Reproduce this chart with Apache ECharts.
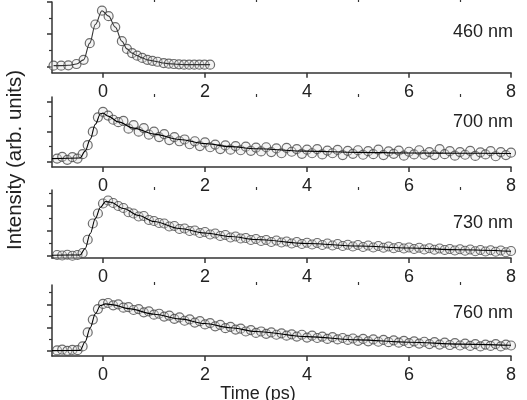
<!DOCTYPE html>
<html>
<head>
<meta charset="utf-8">
<script src="https://cdn.jsdelivr.net/npm/echarts@6/dist/echarts.min.js"></script>
<style>html,body{margin:0;padding:0;background:#fff}#c{width:527px;height:400px}</style>
</head>
<body>
<div id="c"></div>
<script>
// ---- data ----
const LABELS = ['460 nm', '700 nm', '730 nm', '760 nm'];
const XTICKS = [0, 2, 4, 6, 8];
const XMINOR = [1, 3, 5, 7];

// 460 nm (sparse points)
const T1 = [-0.97,-0.82,-0.68,-0.52,-0.38,-0.26,-0.15,-0.02,0.11,0.24,0.37,0.47,0.57,0.67,0.77,0.87,0.97,1.07,1.19,1.29,1.39,1.49,1.59,1.69,1.79,1.89,1.99,2.10];
const V1 = [0.02,0.02,0.03,0.07,0.20,0.72,1.30,1.73,1.56,1.22,0.78,0.54,0.41,0.33,0.26,0.20,0.17,0.14,0.10,0.08,0.07,0.06,0.05,0.05,0.05,0.05,0.05,0.05];

// shared time grid for 700/730/760 nm
const T = [
 -0.9,-0.8,-0.7,-0.6,-0.5,-0.4,-0.3,-0.2,-0.1,0.0,
 0.1,0.2,0.3,0.4,0.5,0.6,0.7,0.8,0.9,1.0,
 1.1,1.2,1.3,1.4,1.5,1.6,1.7,1.8,1.9,2.0,
 2.1,2.2,2.3,2.4,2.5,2.6,2.7,2.8,2.9,3.0,
 3.1,3.2,3.3,3.4,3.5,3.6,3.7,3.8,3.9,4.0,
 4.1,4.2,4.3,4.4,4.5,4.6,4.7,4.8,4.9,5.0,
 5.1,5.2,5.3,5.4,5.5,5.6,5.7,5.8,5.9,6.0,
 6.1,6.2,6.3,6.4,6.5,6.6,6.7,6.8,6.9,7.0,
 7.1,7.2,7.3,7.4,7.5,7.6,7.7,7.8,7.9,8.0
];
const V2 = [
 0.10,0.16,0.06,0.15,0.10,0.25,0.55,1.00,1.48,1.66,
 1.54,1.40,1.32,1.36,1.10,1.22,1.00,1.12,0.90,1.00,
 0.82,0.92,0.72,0.82,0.68,0.74,0.58,0.68,0.52,0.64,
 0.48,0.57,0.42,0.54,0.40,0.52,0.38,0.50,0.36,0.47,
 0.34,0.48,0.32,0.44,0.28,0.46,0.33,0.42,0.26,0.40,
 0.28,0.42,0.24,0.37,0.28,0.39,0.22,0.36,0.26,0.38,
 0.23,0.35,0.25,0.40,0.22,0.34,0.26,0.37,0.20,0.33,
 0.24,0.38,0.23,0.32,0.22,0.42,0.25,0.35,0.20,0.32,
 0.23,0.36,0.19,0.31,0.24,0.35,0.18,0.32,0.22,0.30
];
const V3 = [
 0.04,0.02,0.05,0.01,0.04,0.12,0.65,1.30,1.70,2.10,
 2.22,2.12,2.00,1.92,1.75,1.70,1.58,1.60,1.44,1.40,
 1.32,1.30,1.18,1.20,1.08,1.10,1.00,1.02,0.92,0.96,
 0.86,0.90,0.80,0.84,0.74,0.78,0.70,0.72,0.64,0.68,
 0.60,0.64,0.56,0.62,0.54,0.58,0.50,0.56,0.48,0.53,
 0.46,0.52,0.44,0.50,0.42,0.48,0.40,0.45,0.38,0.44,
 0.36,0.42,0.34,0.40,0.33,0.38,0.31,0.36,0.30,0.34,
 0.28,0.33,0.26,0.31,0.25,0.30,0.24,0.28,0.22,0.27,
 0.21,0.26,0.19,0.24,0.18,0.23,0.17,0.22,0.15,0.20
];
const V4 = [
 0.03,0.06,0.01,0.05,0.04,0.20,0.80,1.35,1.80,2.02,
 2.06,1.96,2.00,1.86,1.88,1.76,1.80,1.66,1.70,1.56,
 1.60,1.48,1.52,1.38,1.44,1.30,1.36,1.22,1.28,1.14,
 1.20,1.06,1.12,0.98,1.04,0.92,0.96,0.84,0.90,0.78,
 0.84,0.74,0.80,0.70,0.76,0.66,0.72,0.62,0.70,0.58,
 0.66,0.56,0.62,0.52,0.60,0.50,0.56,0.48,0.54,0.44,
 0.52,0.42,0.50,0.40,0.48,0.38,0.46,0.36,0.44,0.34,
 0.42,0.32,0.40,0.30,0.38,0.28,0.36,0.26,0.34,0.24,
 0.32,0.22,0.30,0.20,0.28,0.22,0.30,0.20,0.28,0.24
];

// fitted curves
const FT2 = [-1,-0.45,-0.35,-0.25,-0.15,-0.05,0,0.1,0.3,0.6,1.0,1.5,2.0,2.5,3,4,5,6,7,8];
const FV2 = [0.10,0.12,0.35,0.75,1.25,1.60,1.62,1.52,1.33,1.12,0.92,0.74,0.60,0.50,0.43,0.35,0.31,0.29,0.28,0.27];
const FT3 = [-1,-0.45,-0.35,-0.25,-0.15,-0.05,0.05,0.15,0.4,0.7,1,1.5,2,2.5,3,4,5,6,7,8];
const FV3 = [0.03,0.04,0.30,0.90,1.50,1.95,2.18,2.15,1.90,1.62,1.38,1.10,0.92,0.78,0.66,0.50,0.40,0.32,0.25,0.19];
const FT4 = [-1,-0.45,-0.35,-0.25,-0.15,-0.05,0.05,0.2,0.5,1,1.5,2,2.5,3,4,5,6,7,8];
const FV4 = [0.02,0.03,0.40,1.00,1.60,1.95,2.02,1.98,1.82,1.58,1.38,1.18,1.00,0.84,0.62,0.48,0.38,0.30,0.25];

// ---- layout ----
const TOPS = [2, 97, 190, 285];
const HEIGHTS = [70.7, 70, 68, 71];
const YMIN = [-0.2, -0.18, -0.08, -0.21];
const YMAX = [2.0, 2.16, 2.64, 2.83];
const YMAJ = [[0,1,2],[0,1,2],[0,1,2],[0,1,2]];
const YMIN_T = [[0.5,1.5],[0.5,1.5],[0.5,1.5,2.5],[0.5,1.5,2.5]];
const LABEL_Y = [32, 122, 223, 313];

const FONT = '"Liberation Sans", Arial, sans-serif';
const AX = '#333';

const zip = (a, b) => a.map((v, i) => [v, b[i]]);
const dataSets = [
  { pts: zip(T1, V1), fit: zip(T1, V1) },
  { pts: zip(T, V2), fit: zip(FT2, FV2) },
  { pts: zip(T, V3), fit: zip(FT3, FV3) },
  { pts: zip(T, V4), fit: zip(FT4, FV4) }
];

const grid = [], xAxis = [], yAxis = [], series = [];
for (let i = 0; i < 4; i++) {
  grid.push({ left: 52, right: 16, top: TOPS[i], height: HEIGHTS[i] });
  xAxis.push({
    type: 'value', gridIndex: i, min: -1, max: 8,
    axisLine: { show: true, onZero: false, lineStyle: { color: AX, width: 1.5 } },
    axisTick: { show: true, customValues: XTICKS, length: 5, lineStyle: { color: AX, width: 1.5 } },
    axisLabel: { show: true, customValues: XTICKS, margin: 10, fontSize: 18, fontFamily: FONT, color: '#222' },
    splitLine: { show: false }
  });
  xAxis.push({
    type: 'value', gridIndex: i, min: -1, max: 8,
    axisLine: { show: false, onZero: false },
    axisTick: { show: true, customValues: XMINOR, length: 3, lineStyle: { color: AX, width: 1.2 } },
    axisLabel: { show: false },
    splitLine: { show: false }
  });
  yAxis.push({
    type: 'value', gridIndex: i, min: YMIN[i], max: YMAX[i],
    axisLine: { show: true, onZero: false, lineStyle: { color: AX, width: 1.5 } },
    axisTick: { show: true, customValues: YMAJ[i], length: 5, lineStyle: { color: AX, width: 1.5 } },
    axisLabel: { show: false },
    splitLine: { show: false }
  });
  yAxis.push({
    type: 'value', gridIndex: i, min: YMIN[i], max: YMAX[i], position: 'left',
    axisLine: { show: false, onZero: false },
    axisTick: { show: true, customValues: YMIN_T[i], length: 3, lineStyle: { color: AX, width: 1.2 } },
    axisLabel: { show: false },
    splitLine: { show: false }
  });
  series.push({
    type: 'scatter', xAxisIndex: 2 * i, yAxisIndex: 2 * i,
    data: dataSets[i].pts, symbol: 'circle', symbolSize: 9,
    itemStyle: { color: 'rgba(225,225,225,0.45)', borderColor: '#4a4a4a', borderWidth: 1.2 },
    silent: true, z: 2
  });
  series.push({
    type: 'line', xAxisIndex: 2 * i, yAxisIndex: 2 * i,
    data: dataSets[i].fit, showSymbol: false, smooth: 0.35, smoothMonotone: 'x',
    lineStyle: { color: i === 0 ? '#333' : '#000', width: 1.1 }, silent: true, z: 3
  });
}

const graphic = LABELS.map((t, i) => ({
  type: 'text', x: 513, y: LABEL_Y[i],
  style: { text: t, font: '18px ' + FONT, fill: '#222', align: 'right', verticalAlign: 'middle' }
}));
graphic.push({
  type: 'text', x: 15, y: 160, rotation: Math.PI / 2,
  style: { text: 'Intensity (arb. units)', font: '20.5px ' + FONT, fill: '#222', align: 'center', verticalAlign: 'middle' }
});
graphic.push({
  type: 'text', x: 258, y: 394,
  style: { text: 'Time (ps)', font: '18px ' + FONT, fill: '#222', align: 'center', verticalAlign: 'middle' }
});

const chart = echarts.init(document.getElementById('c'), null, { renderer: 'canvas' });
chart.setOption({ animation: false, backgroundColor: '#fff', grid, xAxis, yAxis, series, graphic });
</script>
</body>
</html>
